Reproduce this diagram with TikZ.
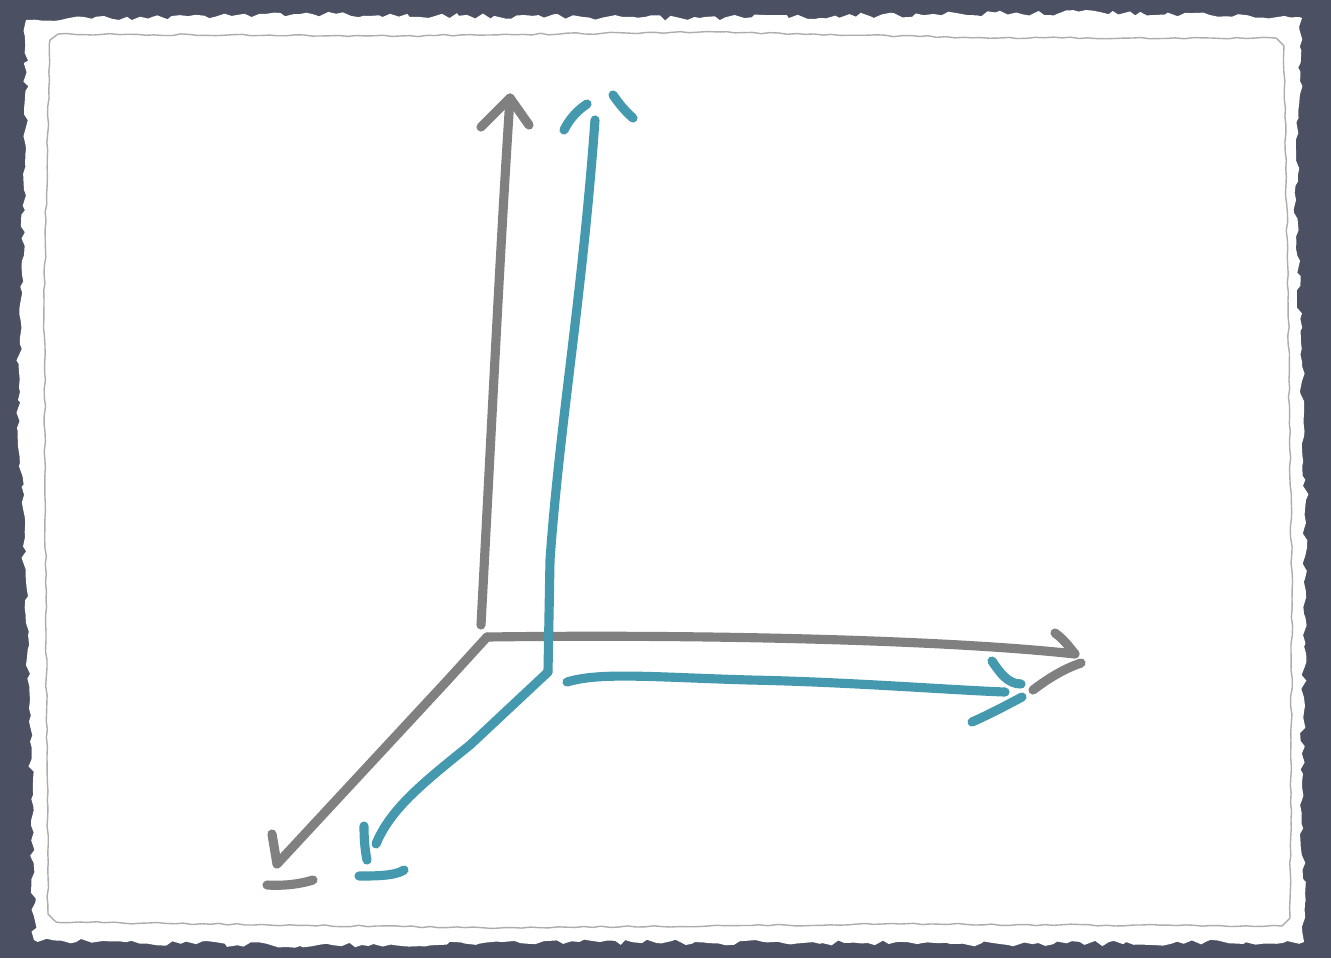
\documentclass[tikz,border=0pt]{standalone}
\usetikzlibrary{decorations.pathmorphing}
\definecolor{slate}{HTML}{4B5163}
\definecolor{penGrey}{HTML}{808080}
\definecolor{penTeal}{HTML}{4599AE}
\definecolor{edgeGrey}{HTML}{ADADAD}
\begin{document}
\begin{tikzpicture}[
    x=0.02cm, y=-0.02cm,
    pen/.style={line width=5.2pt, line cap=round, line join=round},
    axisgrey/.style={pen, draw=penGrey},
    axisteal/.style={pen, draw=penTeal},
    tornedge/.style={decorate, decoration={random steps, segment length=4pt, amplitude=1.6pt}},
    inneredge/.style={decorate, decoration={random steps, segment length=5pt, amplitude=0.5pt}, draw=edgeGrey, line width=0.8pt, line join=round}
]
\pgfmathsetseed{11}

% Board and paper
\fill[slate] (0,0) rectangle (1331,958);
\useasboundingbox (0,0) rectangle (1331,958);
\fill[white, tornedge] (26,20) -- (300,14) -- (700,18) -- (1100,12) -- (1302,18)
    -- (1296,200) -- (1306,500) -- (1302,800) -- (1304,942)
    -- (1000,944) -- (600,942) -- (300,946) -- (34,940)
    -- (30,700) -- (18,400) -- (26,150) -- cycle;
\draw[inneredge] (58,34) -- (400,36) -- (700,32) -- (1000,38) -- (1276,38) -- (1284,46)
    -- (1288,300) -- (1292,600) -- (1290,918) -- (1282,926)
    -- (900,924) -- (500,928) -- (56,922) -- (48,914)
    -- (46,600) -- (44,300) -- (50,40) -- cycle;

% Grey axes
\coordinate (go) at (487,637);
\coordinate (gy) at (510,98);
\coordinate (gx) at (1075,654);
\coordinate (gz) at (277,864);
\draw[axisgrey] (481,625) .. controls (492,420) and (500,250) .. (gy);
\draw[axisgrey] (481,127) -- (gy) -- (529,125);
\draw[axisgrey] (go) .. controls (700,634) and (950,640) .. (gx)
    .. controls (1068,645) and (1062,638) .. (1055,633);
\draw[axisgrey] (1033,690) .. controls (1050,677) and (1066,668) .. (1081,663);
\draw[axisgrey] (go) -- (445,683) -- (gz) -- (272,834);
\draw[axisgrey] (267,885) .. controls (285,886) and (300,884) .. (313,880);

% Teal axes
\coordinate (to) at (548,672);
\coordinate (ty) at (595,120);
\coordinate (tx) at (1005,692);
\coordinate (tz) at (376,844);
\draw[axisteal] (to) -- (550,560) .. controls (560,420) and (582,300) .. (ty);
\draw[axisteal] (564,130) .. controls (570,118) and (578,110) .. (587,104);
\draw[axisteal] (613,95) .. controls (620,105) and (626,112) .. (633,118);
\draw[axisteal] (to) -- (470,745) .. controls (420,785) and (390,810) .. (tz);
\draw[axisteal] (364,826) .. controls (364,840) and (365,850) .. (367,860);
\draw[axisteal] (359,876) .. controls (375,876) and (395,876) .. (404,870);
\draw[axisteal] (567,682) .. controls (600,672) and (650,677) .. (750,680)
    .. controls (850,682) and (950,690) .. (tx);
\draw[axisteal] (992,661) .. controls (1000,673) and (1008,684) .. (1021,684);
\draw[axisteal] (1022,697) .. controls (1005,706) and (990,714) .. (972,722);
\end{tikzpicture}
\end{document}
